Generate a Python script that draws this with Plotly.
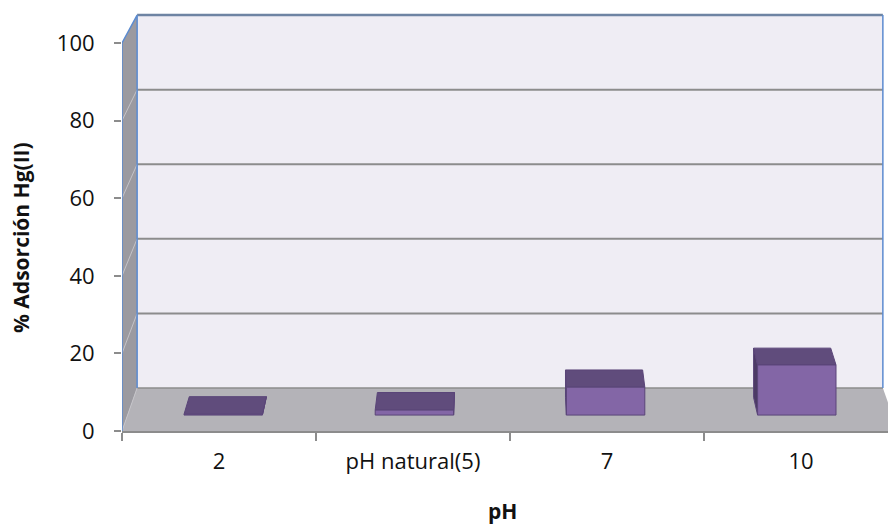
import plotly.graph_objects as go

# Mercury(II) adsorption at each pH
categories = ["2", "pH natural(5)", "7", "10"]
adsorcion = [0.2, 1.3, 7.3, 13.1]
value_ticks = [0, 20, 40, 60, 80, 100]
y_top = 100

# Oblique view: the back plane is the front plane shrunk toward a vanishing point
VP = (1.5, 284.5)
SHRINK = 0.961
BAR_HALF = 0.205
BAR_T0, BAR_T1 = 0.37, 0.78
X_LO, X_HI = -0.5, 3.5

FONT = "'Open Sans', Lato, sans-serif"


def proj(x, y, t):
    k = 1 - t * (1 - SHRINK)
    return VP[0] + k * (x - VP[0]), VP[1] + k * (y - VP[1])


fig = go.Figure()


def poly(pts, fill, line_color="rgba(0,0,0,0)", line_width=0):
    xs = [p[0] for p in pts] + [pts[0][0]]
    ys = [p[1] for p in pts] + [pts[0][1]]
    fig.add_trace(go.Scatter(
        x=xs, y=ys, mode="lines", fill="toself", fillcolor=fill,
        line=dict(color=line_color, width=line_width),
        hoverinfo="skip", showlegend=False))


def seg(pts, color, width):
    fig.add_trace(go.Scatter(
        x=[p[0] for p in pts], y=[p[1] for p in pts], mode="lines",
        line=dict(color=color, width=width),
        hoverinfo="skip", showlegend=False))


# back wall
poly([proj(X_LO, 0, 1), proj(X_HI, 0, 1), proj(X_HI, y_top, 1), proj(X_LO, y_top, 1)],
     "#efedf4")
# side wall
poly([proj(X_LO, 0, 0), proj(X_LO, 0, 1), proj(X_LO, y_top, 1), proj(X_LO, y_top, 0)],
     "#9b9aa0")
# floor
poly([proj(X_LO, 0, 0), proj(X_HI, 0, 0), proj(X_HI, 0, 1), proj(X_LO, 0, 1)],
     "#b4b3b8")

# gridlines on back and side walls
for v in value_ticks[1:-1]:
    seg([proj(X_LO, v, 1), proj(X_HI, v, 1)], "#8c8c8c", 2)
    seg([proj(X_LO, v, 0), proj(X_LO, v, 1)], "#c4c3c8", 1)
seg([proj(X_LO, 0, 1), proj(X_HI, 0, 1)], "#8c8c8c", 1.5)
seg([proj(X_LO, 0, 0), proj(X_LO, 0, 1)], "#c4c3c8", 1)

# wall outlines
seg([proj(X_LO, y_top, 1), proj(X_HI, y_top, 1)], "#6e84a3", 2.5)
seg([proj(X_HI, 0, 1), proj(X_HI, y_top, 1)], "#5b8bd0", 1.5)
seg([proj(X_LO, 0, 0), proj(X_LO, y_top, 0), proj(X_LO, y_top, 1), proj(X_LO, 0, 1)],
    "#5b8bd0", 1.5)

# bars
FRONT, TOP, SIDE, EDGE = "#8366a6", "#604c7c", "#4c3b65", "#5a4578"
for i, v in enumerate(adsorcion):
    xl, xr = i - BAR_HALF, i + BAR_HALF
    xs_side = xr if i < VP[0] else xl
    poly([proj(xs_side, 0, BAR_T0), proj(xs_side, 0, BAR_T1),
          proj(xs_side, v, BAR_T1), proj(xs_side, v, BAR_T0)], SIDE, EDGE, 1)
    poly([proj(xl, v, BAR_T0), proj(xr, v, BAR_T0),
          proj(xr, v, BAR_T1), proj(xl, v, BAR_T1)], TOP, EDGE, 1)
    poly([proj(xl, 0, BAR_T0), proj(xr, 0, BAR_T0),
          proj(xr, v, BAR_T0), proj(xl, v, BAR_T0)], FRONT, EDGE, 1)

W, H = 888, 526
ML, MB = 122, 95
px_per_cat = 194
px_per_unit = 3.88

fig.update_layout(
    width=W, height=H,
    margin=dict(l=ML, r=0, t=0, b=MB),
    paper_bgcolor="white", plot_bgcolor="white",
    showlegend=False,
    font=dict(family=FONT, size=22, color="#111111"),
    xaxis=dict(
        range=[-0.5, -0.5 + (W - ML) / px_per_cat],
        tickmode="array", tickvals=list(range(len(categories))), ticktext=categories,
        ticks="", showgrid=False, zeroline=False,
        showline=True, linecolor="#8c8c8c", linewidth=2,
        minor=dict(tickmode="array", tickvals=[-0.5, 0.5, 1.5, 2.5, 3.5],
                   ticks="outside", ticklen=8, tickcolor="#8c8c8c", tickwidth=1.5,
                   showgrid=False),
        ticklabelstandoff=10,
        fixedrange=True,
    ),
    yaxis=dict(
        range=[0, (H - MB) / px_per_unit],
        tickmode="array", tickvals=value_ticks,
        ticks="outside", ticklen=7, tickcolor="#8c8c8c", tickwidth=1.5,
        showgrid=False, zeroline=False, showline=False,
        ticklabelstandoff=15,
        fixedrange=True,
    ),
    annotations=[
        dict(text="<b>% Adsorción Hg(II)</b>", textangle=-90,
             xref="paper", yref="paper",
             x=(21 - ML) / (W - ML), y=(431 - 238) / 431,
             xanchor="center", yanchor="middle", showarrow=False,
             font=dict(family=FONT, size=21, color="#111111")),
        dict(text="<b>pH</b>", xref="paper", yref="paper",
             x=(502 - ML) / (W - ML), y=(431 - 511) / 431,
             xanchor="center", yanchor="middle", showarrow=False,
             font=dict(family=FONT, size=21, color="#111111")),
    ],
)

fig.write_html("out.html")
